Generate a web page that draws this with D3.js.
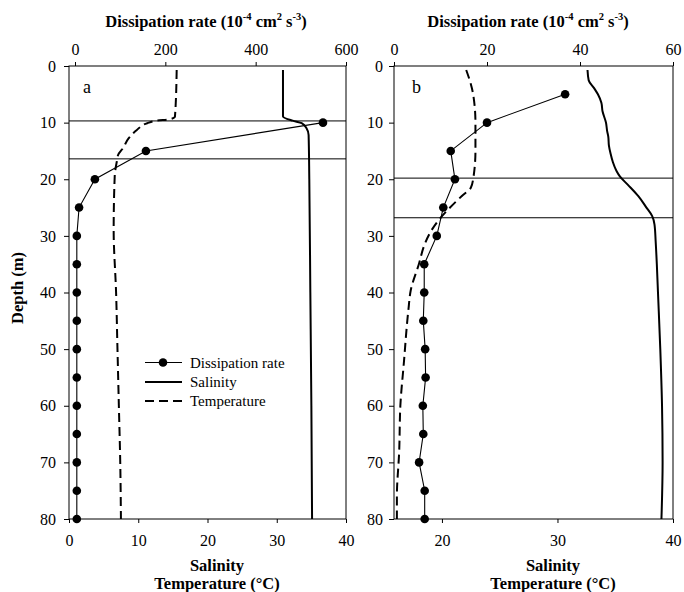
<!DOCTYPE html>
<html>
<head>
<meta charset="utf-8">
<script src="https://cdn.jsdelivr.net/npm/d3@7"></script>
<style>
  html, body { margin: 0; padding: 0; background: #fff; }
  svg { display: block; }
  text { font-family: "Liberation Serif", "Times New Roman", serif; fill: #000; }
</style>
</head>
<body>
<svg id="chart" width="684" height="592"></svg>
<script>
// ---------------- DATA ----------------
// Panel a
const dissDepthA = [10, 15, 20, 25, 30, 35, 40, 45, 50, 55, 60, 65, 70, 75, 80];
const dissA      = [549, 157, 44, 9, 4, 4, 4, 4, 4, 4, 4, 4, 4, 4, 4];
const salDepthA  = [0.7, 8.9, 9.65, 10.1, 11, 12.2, 20, 40, 60, 80];
const salA       = [30.9, 30.9, 32.3, 33.6, 34.3, 34.6, 34.7, 34.85, 35.0, 35.1];
const tempDepthA = [0.7, 8.95, 9.4, 9.65, 10.1, 11.3, 12.8, 14.5, 15.7, 16.9, 19.5, 29, 40, 50, 60, 70, 80];
const tempA      = [15.55, 15.3, 14.6, 12.7, 11.3, 9.8, 8.6, 7.8, 7.1, 6.9, 6.6, 6.45, 6.8, 7.0, 7.2, 7.4, 7.5];
const mixLinesA  = [9.7, 16.4];

// Panel b
const dissDepthB = [5, 10, 15, 20, 25, 30, 35, 40, 45, 50, 55, 60, 65, 70, 75, 80];
const dissB      = [36.8, 20.0, 12.2, 13.1, 10.6, 9.2, 6.5, 6.5, 6.3, 6.7, 6.8, 6.2, 6.3, 5.4, 6.6, 6.6];
const salDepthB  = [0.7, 2.5, 4, 5, 6.5, 8, 10, 11.5, 12.5, 14, 15.5, 17, 18.5, 19.5, 21, 23, 25, 26.5, 28, 31, 35, 40, 50, 60, 70, 80];
const salB       = [32.6, 32.7, 33.2, 33.5, 33.8, 33.9, 34.2, 34.3, 34.4, 34.45, 34.6, 34.8, 35.1, 35.4, 36.1, 37.0, 37.7, 38.2, 38.4, 38.5, 38.6, 38.7, 38.9, 39.05, 39.1, 39.0];
const tempDepthB = [0.7, 2.5, 5, 10, 15, 20, 21.5, 23, 25, 27, 29, 31.5, 35, 39.6, 43, 52.5, 60, 68, 76, 80];
const tempB      = [22.1, 22.4, 22.7, 22.9, 22.9, 22.7, 22.5, 21.7, 20.7, 19.8, 19.1, 18.5, 18.0, 17.3, 17.1, 16.7, 16.4, 16.3, 16.1, 16.1];
const mixLinesB  = [19.8, 26.8];

// Tick labels
const depthTicks   = [0, 10, 20, 30, 40, 50, 60, 70, 80];
const topTicksA    = [0, 200, 400, 600];
const bottomTicksA = [0, 10, 20, 30, 40];
const topTicksB    = [0, 20, 40, 60];
const bottomTicksB = [20, 30, 40];

// Texts
const topTitle = ["Dissipation rate (10", "-4", " cm", "2", " s", "-3", ")"];
const bottomTitle = ["Salinity", "Temperature (\u00B0C)"];
const yTitle = "Depth (m)";
const legendLabels = ["Dissipation rate", "Salinity", "Temperature"];

// ---------------- LAYOUT ----------------
const yTop = 66, yBot = 519;
const panels = [
  { label: "a", x0: 69, x1: 346, topDom: [-13.3, 600], botDom: [0, 40],
    topTicks: topTicksA, botTicks: bottomTicksA,
    diss: dissA, dissDepth: dissDepthA, sal: salA, salDepth: salDepthA,
    temp: tempA, tempDepth: tempDepthA, mix: mixLinesA, labelX: 83, yLabelX: 56,
    titleX: 206, botTitleX: 217 },
  { label: "b", x0: 394, x1: 673, topDom: [0, 60], botDom: [15.85, 40],
    topTicks: topTicksB, botTicks: bottomTicksB,
    diss: dissB, dissDepth: dissDepthB, sal: salB, salDepth: salDepthB,
    temp: tempB, tempDepth: tempDepthB, mix: mixLinesB, labelX: 412, yLabelX: 383,
    titleX: 528, botTitleX: 553 }
];

const svg = d3.select("#chart");
const y = d3.scaleLinear().domain([0, 80]).range([yTop, yBot]);

panels.forEach(p => {
  const xTop = d3.scaleLinear().domain(p.topDom).range([p.x0, p.x1]);
  const xBot = d3.scaleLinear().domain(p.botDom).range([p.x0, p.x1]);
  const g = svg.append("g");

  // Frame
  g.append("rect").attr("x", p.x0).attr("y", yTop)
    .attr("width", p.x1 - p.x0).attr("height", yBot - yTop)
    .attr("fill", "none").attr("stroke", "#000").attr("stroke-width", 1);

  // Axes
  const styleAxis = sel => {
    sel.select(".domain").remove();
    sel.selectAll(".tick line").attr("stroke", "#000").attr("stroke-width", 1);
    sel.selectAll(".tick text").style("font-family", "'Liberation Serif', 'Times New Roman', serif")
      .style("font-size", "16px").attr("fill", "#000");
  };
  g.append("g").attr("transform", `translate(0,${yTop})`)
    .call(d3.axisTop(xTop).tickValues(p.topTicks).tickSize(4).tickPadding(7).tickFormat(d3.format("d")))
    .call(styleAxis);
  g.append("g").attr("transform", `translate(0,${yBot})`)
    .call(d3.axisBottom(xBot).tickValues(p.botTicks).tickSize(4).tickPadding(12).tickFormat(d3.format("d")))
    .call(styleAxis);
  g.append("g").attr("transform", `translate(${p.x0},0)`)
    .call(d3.axisLeft(y).tickValues(depthTicks).tickSize(5).tickPadding(p.x0 - p.yLabelX - 5))
    .call(styleAxis);

  // Mixed-layer lines
  g.selectAll(".mix").data(p.mix).enter().append("line")
    .attr("x1", p.x0).attr("x2", p.x1)
    .attr("y1", d => y(d)).attr("y2", d => y(d))
    .attr("stroke", "#000").attr("stroke-width", 1);

  // Temperature (dashed)
  const profLine = d3.line().x(d => xBot(d[0])).y(d => y(d[1])).curve(d3.curveMonotoneY);
  g.append("path").datum(p.temp.map((v, i) => [v, p.tempDepth[i]]))
    .attr("d", profLine).attr("fill", "none").attr("stroke", "#000")
    .attr("stroke-width", 2).attr("stroke-dasharray", "9,5");

  // Salinity (solid)
  g.append("path").datum(p.sal.map((v, i) => [v, p.salDepth[i]]))
    .attr("d", profLine).attr("fill", "none").attr("stroke", "#000")
    .attr("stroke-width", 2);

  // Dissipation rate
  const dissLine = d3.line().x(d => xTop(d[0])).y(d => y(d[1]));
  const dd = p.diss.map((v, i) => [v, p.dissDepth[i]]);
  g.append("path").datum(dd).attr("d", dissLine)
    .attr("fill", "none").attr("stroke", "#000").attr("stroke-width", 1.1);
  g.selectAll(".pt").data(dd).enter().append("circle")
    .attr("cx", d => xTop(d[0])).attr("cy", d => y(d[1])).attr("r", 4.3)
    .attr("fill", "#000");

  // Panel label
  g.append("text").attr("x", p.labelX).attr("y", 93)
    .style("font-size", "18px").text(p.label);

  // Top title
  const tt = g.append("text").attr("x", p.titleX).attr("y", 27)
    .attr("text-anchor", "middle").style("font-size", "16.5px").style("font-weight", "bold");
  topTitle.forEach((s, i) => {
    const sup = i % 2 === 1;
    const ts = tt.append("tspan").text(s);
    if (sup) ts.style("font-size", "10.5px").attr("dy", -7);
    else if (i > 0) ts.attr("dy", 7);
  });

  // Bottom title
  g.append("text").attr("x", p.botTitleX).attr("y", 571).attr("text-anchor", "middle")
    .style("font-size", "16.5px").style("font-weight", "bold").text(bottomTitle[0]);
  g.append("text").attr("x", p.botTitleX).attr("y", 589).attr("text-anchor", "middle")
    .style("font-size", "16.5px").style("font-weight", "bold").text(bottomTitle[1]);
});

// Y title
svg.append("text").attr("transform", "translate(23,288) rotate(-90)")
  .attr("text-anchor", "middle").style("font-size", "16.5px").style("font-weight", "bold")
  .text(yTitle);

// Legend
const lg = svg.append("g");
const rows = [362.5, 382, 401];
lg.append("line").attr("x1", 145).attr("x2", 182).attr("y1", rows[0]).attr("y2", rows[0])
  .attr("stroke", "#000").attr("stroke-width", 1.1);
lg.append("circle").attr("cx", 163).attr("cy", rows[0]).attr("r", 4.3).attr("fill", "#000");
lg.append("line").attr("x1", 145).attr("x2", 182).attr("y1", rows[1]).attr("y2", rows[1])
  .attr("stroke", "#000").attr("stroke-width", 2);
lg.append("line").attr("x1", 145).attr("x2", 182).attr("y1", rows[2]).attr("y2", rows[2])
  .attr("stroke", "#000").attr("stroke-width", 2).attr("stroke-dasharray", "9,5");
lg.selectAll(".lt").data(legendLabels).enter().append("text")
  .attr("x", 190).attr("y", (d, i) => rows[i] + 5)
  .style("font-size", "15px").text(d => d);
</script>
</body>
</html>
